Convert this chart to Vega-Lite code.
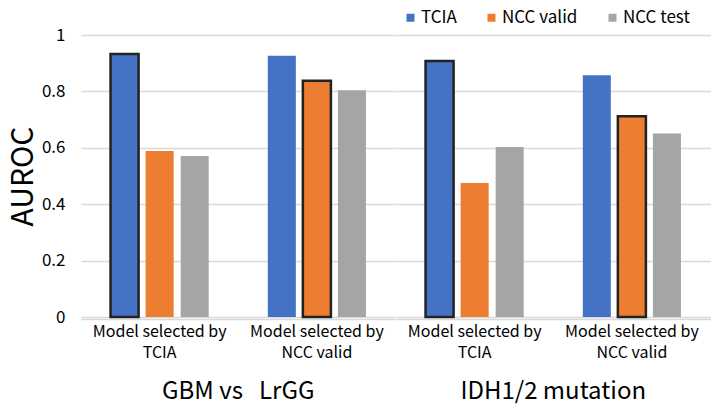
{
  "$schema": "https://vega.github.io/schema/vega-lite/v6.json",
  "padding": {"left": 8, "top": 9, "right": 5, "bottom": 5},
  "background": "white",
  "data": {"values": [
    {"task": "GBM vs\u00a0\u00a0 LrGG", "model": "TCIA", "dataset": "TCIA", "auroc": 0.933, "selected": true},
    {"task": "GBM vs\u00a0\u00a0 LrGG", "model": "TCIA", "dataset": "NCC valid", "auroc": 0.589, "selected": false},
    {"task": "GBM vs\u00a0\u00a0 LrGG", "model": "TCIA", "dataset": "NCC test", "auroc": 0.571, "selected": false},
    {"task": "GBM vs\u00a0\u00a0 LrGG", "model": "NCC valid", "dataset": "TCIA", "auroc": 0.926, "selected": false},
    {"task": "GBM vs\u00a0\u00a0 LrGG", "model": "NCC valid", "dataset": "NCC valid", "auroc": 0.838, "selected": true},
    {"task": "GBM vs\u00a0\u00a0 LrGG", "model": "NCC valid", "dataset": "NCC test", "auroc": 0.804, "selected": false},
    {"task": "IDH1/2 mutation", "model": "TCIA", "dataset": "TCIA", "auroc": 0.908, "selected": true},
    {"task": "IDH1/2 mutation", "model": "TCIA", "dataset": "NCC valid", "auroc": 0.475, "selected": false},
    {"task": "IDH1/2 mutation", "model": "TCIA", "dataset": "NCC test", "auroc": 0.603, "selected": false},
    {"task": "IDH1/2 mutation", "model": "NCC valid", "dataset": "TCIA", "auroc": 0.857, "selected": false},
    {"task": "IDH1/2 mutation", "model": "NCC valid", "dataset": "NCC valid", "auroc": 0.712, "selected": true},
    {"task": "IDH1/2 mutation", "model": "NCC valid", "dataset": "NCC test", "auroc": 0.651, "selected": false}
  ]},
  "spacing": 0,
  "facet": {
    "column": {
      "field": "task",
      "type": "nominal",
      "sort": ["GBM vs\u00a0\u00a0 LrGG", "IDH1/2 mutation"],
      "header": {
        "orient": "bottom",
        "title": null,
        "labelFont": "Noto Sans CJK JP",
        "labelFontSize": 24,
        "labelColor": "#000000",
        "labelPadding": 20
      }
    }
  },
  "spec": {
    "width": 314.5,
    "height": 282,
    "mark": {"type": "bar"},
    "encoding": {
      "x": {
        "field": "model",
        "type": "nominal",
        "sort": ["TCIA", "NCC valid"],
        "scale": {"paddingInner": 0, "paddingOuter": 0},
        "axis": {
          "title": null,
          "labelAngle": 0,
          "labelExpr": "['Model selected by', datum.value]",
          "labelFont": "Noto Sans CJK JP",
          "labelFontSize": 16,
          "labelColor": "#000000",
          "labelLineHeight": 21,
          "labelPadding": 4,
          "ticks": false,
          "domainColor": "#d9d9d9",
          "domainWidth": 1.5
        }
      },
      "xOffset": {
        "field": "dataset",
        "type": "nominal",
        "sort": ["TCIA", "NCC valid", "NCC test"],
        "scale": {"paddingInner": 0.2, "paddingOuter": 0.843}
      },
      "y": {
        "field": "auroc",
        "type": "quantitative",
        "scale": {"domain": [0, 1]},
        "axis": {
          "title": "AUROC",
          "titleFont": "Noto Sans CJK JP",
          "titleFontSize": 30,
          "titleFontWeight": "normal",
          "titleColor": "#000000",
          "titlePadding": 3,
          "values": [0, 0.2, 0.4, 0.6, 0.8, 1],
          "labelExpr": "datum.value == 0 ? '0' : datum.value == 1 ? '1' : format(datum.value, '.1f')",
          "labelFont": "Noto Sans CJK JP",
          "labelFontSize": 17,
          "labelColor": "#000000",
          "labelPadding": 16,
          "ticks": false,
          "domain": false,
          "gridColor": "#d9d9d9",
          "gridWidth": 1.5
        }
      },
      "color": {
        "field": "dataset",
        "type": "nominal",
        "sort": ["TCIA", "NCC valid", "NCC test"],
        "scale": {"domain": ["TCIA", "NCC valid", "NCC test"], "range": ["#4472C4", "#ED7D31", "#A5A5A5"]},
        "legend": {
          "title": null,
          "orient": "none",
          "direction": "horizontal",
          "legendX": 321,
          "legendY": -26,
          "symbolType": "square",
          "symbolSize": 64,
          "symbolStrokeWidth": 0,
          "labelFont": "Noto Sans CJK JP",
          "labelFontSize": 17,
          "labelColor": "#000000",
          "labelOffset": 2,
          "columnPadding": 26
        }
      },
      "stroke": {
        "condition": {"test": "datum.selected", "value": "#222222"},
        "value": null
      },
      "strokeWidth": {
        "condition": {"test": "datum.selected", "value": 2.5},
        "value": 0
      }
    }
  },
  "config": {"view": {"stroke": null}}
}
